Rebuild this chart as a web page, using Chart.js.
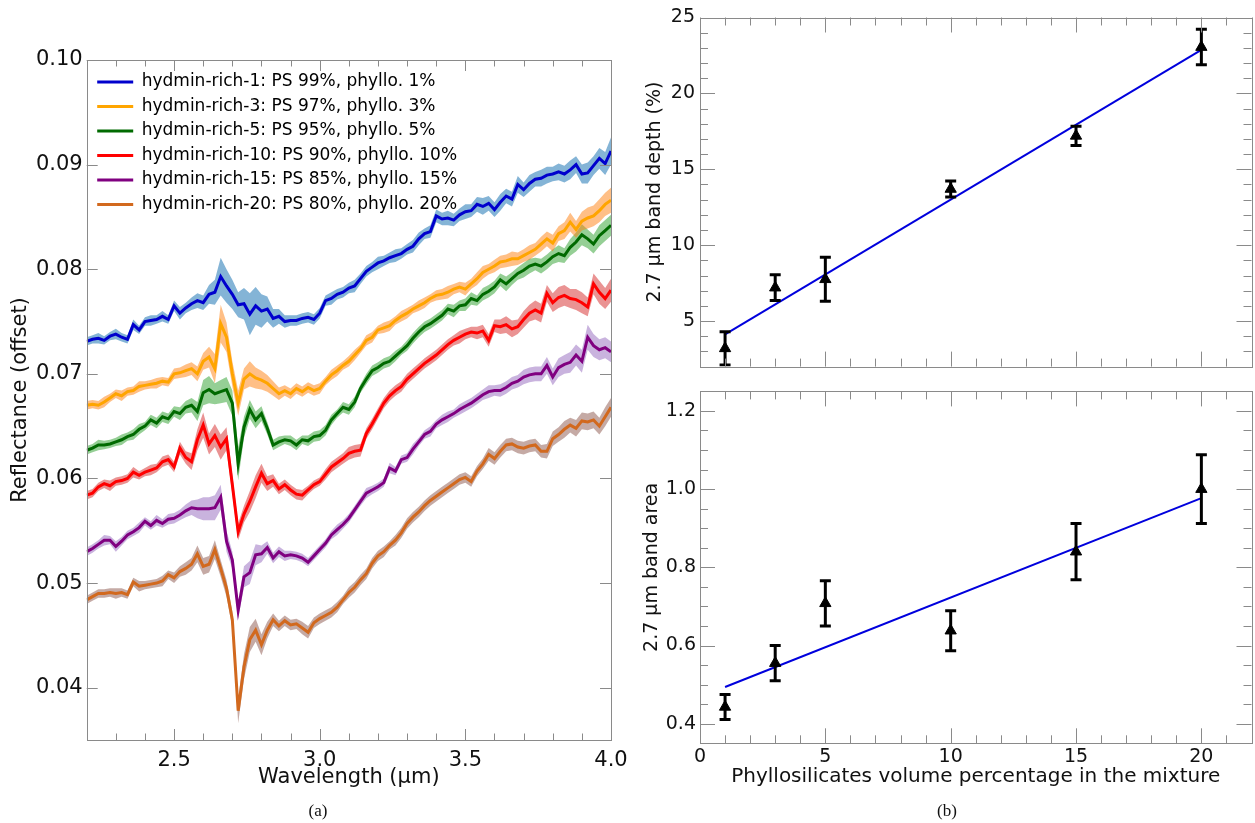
<!DOCTYPE html>
<html lang="en">
<head>
<meta charset="UTF-8" />
<title>2.7 um band of hydrated mineral mixtures</title>
<script src="https://cdn.jsdelivr.net/npm/chart.js"></script>
<style>
  body { margin: 0; width: 1255px; height: 823px; overflow: hidden; background: #fff; position: relative; }
  .box { position: absolute; }
  .box canvas { display: block; }
  .caption { position: absolute; font-family: "Liberation Serif", serif; font-size: 17px; color: #111; transform: translateX(-50%); }
</style>
</head>
<body>
<div class="box" style="left:0;top:0"><canvas id="spectra" width="640" height="823"></canvas></div>
<div class="box" style="left:620px;top:0"><canvas id="depth" width="640" height="383"></canvas></div>
<div class="box" style="left:620px;top:376px"><canvas id="area" width="640" height="447"></canvas></div>
<div class="caption" style="left:318px;top:801px">(a)</div>
<div class="caption" style="left:947px;top:801px">(b)</div>

<script>
// ---- panel (a): spectra ----
const wavelength = [
  2.20,2.22,2.24,2.26,2.28,2.30,2.32,2.34,2.36,2.38,
  2.40,2.42,2.44,2.46,2.48,2.50,2.52,2.54,2.56,2.58,
  2.60,2.62,2.64,2.66,2.68,2.70,2.72,2.74,2.76,2.78,
  2.80,2.82,2.84,2.86,2.88,2.90,2.92,2.94,2.96,2.98,
  3.00,3.02,3.04,3.06,3.08,3.10,3.12,3.14,3.16,3.18,
  3.20,3.22,3.24,3.26,3.28,3.30,3.32,3.34,3.36,3.38,
  3.40,3.42,3.44,3.46,3.48,3.50,3.52,3.54,3.56,3.58,
  3.60,3.62,3.64,3.66,3.68,3.70,3.72,3.74,3.76,3.78,
  3.80,3.82,3.84,3.86,3.88,3.90,3.92,3.94,3.96,3.98,
  4.00
];

const rich1 = [
  0.0731,0.0733,0.0734,0.0732,0.0736,0.0738,0.0735,0.0733,0.0747,0.0742,
  0.0750,0.0751,0.0752,0.0755,0.0752,0.0765,0.0758,0.0763,0.0767,0.0770,
  0.0768,0.0776,0.0778,0.0793,0.0784,0.0776,0.0766,0.0767,0.0757,0.0765,
  0.0760,0.0762,0.0753,0.0755,0.0750,0.0751,0.0751,0.0753,0.0754,0.0752,
  0.0758,0.0770,0.0772,0.0776,0.0778,0.0782,0.0784,0.0791,0.0798,0.0802,
  0.0806,0.0808,0.0811,0.0813,0.0815,0.0819,0.0822,0.0829,0.0834,0.0836,
  0.0851,0.0848,0.0849,0.0847,0.0852,0.0855,0.0856,0.0862,0.0860,0.0863,
  0.0857,0.0864,0.0870,0.0867,0.0881,0.0876,0.0882,0.0886,0.0887,0.0890,
  0.0891,0.0893,0.0891,0.0895,0.0900,0.0891,0.0892,0.0899,0.0906,0.0901,
  0.0913
];
const rich1Err = [
  0.0004,0.0004,0.0005,0.0004,0.0004,0.0005,0.0004,0.0004,0.0005,0.0004,
  0.0004,0.0005,0.0004,0.0005,0.0004,0.0005,0.0006,0.0005,0.0006,0.0007,
  0.0007,0.0009,0.0012,0.0018,0.0016,0.0014,0.0012,0.0015,0.0020,0.0018,
  0.0016,0.0012,0.0009,0.0007,0.0006,0.0005,0.0005,0.0005,0.0005,0.0005,
  0.0005,0.0005,0.0006,0.0005,0.0005,0.0005,0.0006,0.0005,0.0005,0.0005,
  0.0006,0.0005,0.0005,0.0006,0.0005,0.0005,0.0006,0.0006,0.0005,0.0006,
  0.0006,0.0006,0.0007,0.0006,0.0006,0.0007,0.0006,0.0007,0.0008,0.0007,
  0.0007,0.0008,0.0007,0.0007,0.0008,0.0007,0.0008,0.0007,0.0008,0.0008,
  0.0007,0.0008,0.0008,0.0009,0.0008,0.0009,0.0010,0.0009,0.0010,0.0011,
  0.0013
];

const rich3 = [
  0.0670,0.0671,0.0670,0.0673,0.0677,0.0681,0.0679,0.0683,0.0684,0.0688,
  0.0689,0.0690,0.0691,0.0693,0.0692,0.0700,0.0701,0.0703,0.0705,0.0700,
  0.0712,0.0716,0.0705,0.0748,0.0735,0.0700,0.0672,0.0695,0.0700,0.0696,
  0.0694,0.0691,0.0686,0.0681,0.0684,0.0681,0.0686,0.0683,0.0687,0.0684,
  0.0686,0.0693,0.0699,0.0703,0.0708,0.0712,0.0718,0.0724,0.0732,0.0735,
  0.0742,0.0744,0.0746,0.0751,0.0755,0.0758,0.0762,0.0765,0.0768,0.0772,
  0.0775,0.0776,0.0778,0.0781,0.0783,0.0781,0.0786,0.0791,0.0797,0.0800,
  0.0803,0.0807,0.0808,0.0810,0.0810,0.0813,0.0816,0.0819,0.0824,0.0829,
  0.0825,0.0834,0.0837,0.0845,0.0838,0.0846,0.0849,0.0851,0.0856,0.0862,
  0.0866
];
const rich3Err = [
  0.0004,0.0004,0.0004,0.0005,0.0004,0.0004,0.0005,0.0004,0.0004,0.0005,
  0.0004,0.0004,0.0005,0.0004,0.0004,0.0005,0.0005,0.0006,0.0006,0.0007,
  0.0008,0.0010,0.0014,0.0018,0.0014,0.0012,0.0012,0.0010,0.0012,0.0010,
  0.0009,0.0008,0.0007,0.0006,0.0005,0.0005,0.0005,0.0005,0.0005,0.0005,
  0.0005,0.0004,0.0005,0.0005,0.0004,0.0005,0.0005,0.0004,0.0005,0.0005,
  0.0004,0.0005,0.0005,0.0004,0.0005,0.0005,0.0004,0.0005,0.0005,0.0004,
  0.0005,0.0005,0.0006,0.0005,0.0005,0.0006,0.0005,0.0006,0.0006,0.0005,
  0.0006,0.0006,0.0006,0.0007,0.0006,0.0006,0.0007,0.0006,0.0007,0.0007,
  0.0008,0.0007,0.0008,0.0009,0.0008,0.0009,0.0010,0.0010,0.0011,0.0011,
  0.0012
];

const rich5 = [
  0.0627,0.0629,0.0632,0.0632,0.0633,0.0635,0.0637,0.0640,0.0642,0.0647,
  0.0650,0.0656,0.0653,0.0659,0.0657,0.0664,0.0662,0.0668,0.0670,0.0664,
  0.0682,0.0685,0.0681,0.0683,0.0685,0.0672,0.0614,0.0649,0.0666,0.0656,
  0.0662,0.0648,0.0632,0.0635,0.0637,0.0636,0.0632,0.0637,0.0636,0.0640,
  0.0641,0.0646,0.0656,0.0662,0.0668,0.0666,0.0673,0.0686,0.0695,0.0703,
  0.0706,0.0710,0.0712,0.0717,0.0722,0.0727,0.0734,0.0740,0.0745,0.0748,
  0.0752,0.0756,0.0762,0.0760,0.0765,0.0766,0.0772,0.0770,0.0776,0.0779,
  0.0783,0.0790,0.0786,0.0791,0.0796,0.0799,0.0803,0.0805,0.0803,0.0807,
  0.0812,0.0815,0.0813,0.0821,0.0826,0.0833,0.0829,0.0824,0.0832,0.0837,
  0.0842
];
const rich5Err = [
  0.0004,0.0004,0.0005,0.0004,0.0004,0.0004,0.0005,0.0004,0.0005,0.0005,
  0.0004,0.0005,0.0005,0.0005,0.0005,0.0005,0.0006,0.0006,0.0007,0.0009,
  0.0012,0.0013,0.0010,0.0011,0.0012,0.0012,0.0016,0.0010,0.0009,0.0008,
  0.0007,0.0006,0.0005,0.0005,0.0004,0.0005,0.0005,0.0004,0.0005,0.0005,
  0.0005,0.0005,0.0005,0.0004,0.0005,0.0005,0.0005,0.0004,0.0005,0.0005,
  0.0005,0.0005,0.0005,0.0005,0.0004,0.0005,0.0005,0.0005,0.0005,0.0005,
  0.0005,0.0005,0.0005,0.0006,0.0005,0.0006,0.0006,0.0005,0.0006,0.0006,
  0.0006,0.0006,0.0007,0.0006,0.0006,0.0007,0.0007,0.0006,0.0007,0.0007,
  0.0007,0.0008,0.0007,0.0008,0.0009,0.0010,0.0009,0.0009,0.0010,0.0010,
  0.0010
];

const rich10 = [
  0.0584,0.0586,0.0592,0.0595,0.0593,0.0597,0.0598,0.0600,0.0606,0.0603,
  0.0606,0.0608,0.0610,0.0616,0.0618,0.0611,0.0629,0.0620,0.0616,0.0637,
  0.0651,0.0633,0.0641,0.0630,0.0638,0.0594,0.0549,0.0566,0.0578,0.0592,
  0.0605,0.0595,0.0598,0.0590,0.0594,0.0589,0.0585,0.0584,0.0589,0.0594,
  0.0597,0.0604,0.0611,0.0615,0.0619,0.0624,0.0626,0.0627,0.0643,0.0652,
  0.0662,0.0672,0.0679,0.0684,0.0688,0.0695,0.0700,0.0705,0.0710,0.0714,
  0.0718,0.0723,0.0728,0.0732,0.0735,0.0738,0.0740,0.0739,0.0741,0.0732,
  0.0746,0.0745,0.0747,0.0743,0.0745,0.0752,0.0758,0.0761,0.0758,0.0777,
  0.0768,0.0773,0.0775,0.0772,0.0771,0.0768,0.0764,0.0786,0.0778,0.0772,
  0.0780
];
const rich10Err = [
  0.0004,0.0004,0.0004,0.0004,0.0005,0.0004,0.0004,0.0004,0.0005,0.0004,
  0.0004,0.0005,0.0004,0.0005,0.0005,0.0005,0.0006,0.0006,0.0008,0.0010,
  0.0012,0.0010,0.0011,0.0012,0.0011,0.0009,0.0008,0.0008,0.0010,0.0011,
  0.0009,0.0007,0.0006,0.0005,0.0005,0.0005,0.0005,0.0005,0.0004,0.0004,
  0.0004,0.0005,0.0005,0.0005,0.0005,0.0006,0.0006,0.0006,0.0005,0.0005,
  0.0005,0.0005,0.0005,0.0005,0.0005,0.0005,0.0005,0.0005,0.0005,0.0005,
  0.0005,0.0005,0.0005,0.0005,0.0006,0.0005,0.0005,0.0006,0.0006,0.0006,
  0.0006,0.0007,0.0008,0.0008,0.0007,0.0008,0.0008,0.0009,0.0009,0.0008,
  0.0009,0.0010,0.0010,0.0009,0.0010,0.0010,0.0009,0.0010,0.0011,0.0010,
  0.0011
];

const rich15 = [
  0.0530,0.0533,0.0537,0.0541,0.0541,0.0535,0.0540,0.0546,0.0549,0.0553,
  0.0559,0.0555,0.0560,0.0557,0.0561,0.0562,0.0565,0.0569,0.0572,0.0571,
  0.0571,0.0571,0.0572,0.0582,0.0540,0.0522,0.0474,0.0506,0.0510,0.0527,
  0.0528,0.0534,0.0524,0.0530,0.0526,0.0527,0.0526,0.0524,0.0520,0.0526,
  0.0532,0.0538,0.0546,0.0551,0.0556,0.0562,0.0570,0.0578,0.0586,0.0589,
  0.0592,0.0596,0.0610,0.0607,0.0618,0.0620,0.0628,0.0635,0.0642,0.0645,
  0.0652,0.0656,0.0659,0.0662,0.0666,0.0669,0.0672,0.0676,0.0680,0.0683,
  0.0684,0.0684,0.0687,0.0691,0.0693,0.0697,0.0699,0.0700,0.0700,0.0708,
  0.0697,0.0706,0.0709,0.0711,0.0718,0.0712,0.0735,0.0727,0.0723,0.0725,
  0.0721
];
const rich15Err = [
  0.0004,0.0004,0.0004,0.0005,0.0004,0.0005,0.0004,0.0004,0.0004,0.0005,
  0.0004,0.0004,0.0005,0.0004,0.0005,0.0005,0.0005,0.0006,0.0007,0.0009,
  0.0011,0.0011,0.0012,0.0012,0.0010,0.0008,0.0008,0.0010,0.0011,0.0010,
  0.0008,0.0006,0.0005,0.0005,0.0005,0.0004,0.0004,0.0004,0.0004,0.0004,
  0.0004,0.0004,0.0004,0.0005,0.0004,0.0004,0.0004,0.0004,0.0005,0.0004,
  0.0004,0.0004,0.0005,0.0004,0.0004,0.0004,0.0005,0.0004,0.0004,0.0005,
  0.0004,0.0005,0.0005,0.0004,0.0005,0.0005,0.0005,0.0005,0.0005,0.0006,
  0.0005,0.0006,0.0006,0.0006,0.0006,0.0007,0.0007,0.0007,0.0007,0.0008,
  0.0008,0.0009,0.0009,0.0010,0.0010,0.0011,0.0012,0.0011,0.0010,0.0010,
  0.0010
];

const rich20 = [
  0.0484,0.0487,0.0490,0.0490,0.0491,0.0490,0.0491,0.0489,0.0501,0.0497,
  0.0498,0.0499,0.0500,0.0502,0.0508,0.0505,0.0511,0.0514,0.0518,0.0528,
  0.0516,0.0518,0.0532,0.0514,0.0495,0.0465,0.0378,0.0420,0.0446,0.0455,
  0.0441,0.0455,0.0465,0.0459,0.0464,0.0460,0.0461,0.0457,0.0453,0.0462,
  0.0466,0.0469,0.0472,0.0477,0.0484,0.0491,0.0496,0.0503,0.0509,0.0519,
  0.0526,0.0530,0.0536,0.0541,0.0548,0.0557,0.0563,0.0568,0.0574,0.0579,
  0.0583,0.0587,0.0591,0.0595,0.0599,0.0601,0.0597,0.0607,0.0614,0.0623,
  0.0619,0.0626,0.0632,0.0633,0.0630,0.0629,0.0631,0.0632,0.0626,0.0626,
  0.0638,0.0642,0.0647,0.0651,0.0648,0.0655,0.0654,0.0656,0.0650,0.0659,
  0.0668
];
const rich20Err = [
  0.0004,0.0004,0.0004,0.0004,0.0004,0.0005,0.0004,0.0004,0.0004,0.0005,
  0.0004,0.0004,0.0004,0.0005,0.0004,0.0005,0.0005,0.0006,0.0006,0.0008,
  0.0008,0.0008,0.0009,0.0008,0.0008,0.0008,0.0012,0.0012,0.0012,0.0011,
  0.0010,0.0008,0.0006,0.0005,0.0005,0.0005,0.0005,0.0006,0.0006,0.0005,
  0.0005,0.0005,0.0005,0.0005,0.0004,0.0005,0.0005,0.0005,0.0005,0.0005,
  0.0005,0.0005,0.0004,0.0005,0.0005,0.0005,0.0005,0.0005,0.0005,0.0005,
  0.0005,0.0005,0.0005,0.0005,0.0005,0.0005,0.0005,0.0005,0.0005,0.0006,
  0.0006,0.0006,0.0006,0.0006,0.0006,0.0006,0.0006,0.0006,0.0006,0.0007,
  0.0007,0.0007,0.0008,0.0007,0.0008,0.0008,0.0008,0.0008,0.0008,0.0009,
  0.0009
];

const sampleLabels = [
  'hydmin-rich-1: PS 99%, phyllo. 1%',
  'hydmin-rich-3: PS 97%, phyllo. 3%',
  'hydmin-rich-5: PS 95%, phyllo. 5%',
  'hydmin-rich-10: PS 90%, phyllo. 10%',
  'hydmin-rich-15: PS 85%, phyllo. 15%',
  'hydmin-rich-20: PS 80%, phyllo. 20%'
];
const sampleValues = [rich1, rich3, rich5, rich10, rich15, rich20];
const sampleErrors = [rich1Err, rich3Err, rich5Err, rich10Err, rich15Err, rich20Err];
const lineColors = ['#0000cd', '#ffa500', '#006a00', '#ff0000', '#800080', '#d2691e'];
const bandColors = ['rgba(31,119,180,0.55)', 'rgba(255,127,14,0.5)', 'rgba(44,160,44,0.5)',
                    'rgba(214,39,40,0.5)', 'rgba(148,103,189,0.5)', 'rgba(140,86,75,0.5)'];

const wavelengthTicks = [2.5, 3.0, 3.5, 4.0];
const reflectanceTicks = [0.04, 0.05, 0.06, 0.07, 0.08, 0.09, 0.10];

// ---- panel (b): band parameters ----
const phylloPct = [1, 3, 5, 10, 15, 20];
const bandDepth = [3.2, 7.2, 7.75, 13.7, 17.2, 23.05];
const bandDepthErr = [1.1, 0.85, 1.45, 0.52, 0.63, 1.17];
const bandArea = [0.443, 0.555, 0.708, 0.638, 0.84, 1.0];
const bandAreaErr = [0.032, 0.045, 0.058, 0.051, 0.072, 0.088];
const fitPct = [1, 20];
const bandDepthFit = [4.13, 22.86];
const bandAreaFit = [0.494, 0.977];

const phylloTicks = [0, 5, 10, 15, 20];
const depthTicks = [5, 10, 15, 20, 25];
const areaTicks = [0.4, 0.6, 0.8, 1.0, 1.2];

Chart.defaults.font.family = "'DejaVu Sans', sans-serif";
Chart.defaults.color = '#111';

// box round the plot with inward ticks on all four sides
const framePlugin = {
  id: 'frame',
  afterDatasetsDraw(chart, args, o) {
    const { ctx, chartArea: a } = chart;
    const xs = chart.scales.x, ys = chart.scales.y;
    const snap = v => Math.round(v) + 0.5;
    const minors = (scale, step, majors) => {
      const out = [];
      if (!step) return out;
      for (let i = Math.ceil(scale.min / step - 1e-9); i * step <= scale.max + 1e-9; i++) {
        const v = i * step;
        if (!majors.some(m => Math.abs(m - v) < 1e-9)) out.push(v);
      }
      return out;
    };
    ctx.save();
    ctx.strokeStyle = o.color;
    ctx.lineWidth = 1;
    ctx.beginPath();
    const xMarks = (vals, len) => vals.forEach(v => {
      const px = snap(xs.getPixelForValue(v));
      ctx.moveTo(px, a.bottom); ctx.lineTo(px, a.bottom - len);
      ctx.moveTo(px, a.top); ctx.lineTo(px, a.top + len);
    });
    const yMarks = (vals, len) => vals.forEach(v => {
      const py = snap(ys.getPixelForValue(v));
      ctx.moveTo(a.left, py); ctx.lineTo(a.left + len, py);
      ctx.moveTo(a.right, py); ctx.lineTo(a.right - len, py);
    });
    xMarks(o.xMajor, o.major);
    xMarks(minors(xs, o.xMinor, o.xMajor), o.minor);
    yMarks(o.yMajor, o.major);
    yMarks(minors(ys, o.yMinor, o.yMajor), o.minor);
    ctx.stroke();
    ctx.strokeRect(snap(a.left), snap(a.top), Math.round(a.right - a.left), Math.round(a.bottom - a.top));
    ctx.restore();
  }
};

// the 'chartArea' legend is laid out from the canvas top; move it into the plot box
const legendInside = {
  id: 'legendInside',
  afterLayout(chart, args, o) {
    const lg = chart.legend;
    if (!lg) return;
    const a = chart.chartArea;
    lg.top = a.top + o.dy;
    lg.bottom = a.bottom;
    lg.left = a.left + o.dx;
  }
};

function fixedTicks(values) {
  return scale => { scale.ticks = values.map(v => ({ value: v })); };
}

// ---------- panel (a) ----------
const spectraSets = [];
sampleValues.forEach((vals, s) => {
  const err = sampleErrors[s];
  spectraSets.push({
    role: 'band', data: wavelength.map((w, i) => ({ x: w, y: vals[i] + err[i] })),
    borderWidth: 0, pointRadius: 0, fill: false, order: 1
  });
  spectraSets.push({
    role: 'band', data: wavelength.map((w, i) => ({ x: w, y: vals[i] - err[i] })),
    borderWidth: 0, pointRadius: 0, fill: '-1', backgroundColor: bandColors[s], order: 1
  });
  spectraSets.push({
    role: 'line', label: sampleLabels[s], data: wavelength.map((w, i) => ({ x: w, y: vals[i] })),
    borderColor: lineColors[s], backgroundColor: lineColors[s], borderWidth: 3,
    pointRadius: 0, fill: false, order: 0
  });
});

new Chart(document.getElementById('spectra'), {
  type: 'line',
  data: { datasets: spectraSets },
  options: {
    responsive: false,
    animation: false,
    events: [],
    layout: { padding: { top: 60, right: 29, left: 0, bottom: 0 } },
    elements: { line: { tension: 0 } },
    scales: {
      x: {
        type: 'linear', min: 2.2, max: 4.0,
        afterBuildTicks: fixedTicks(wavelengthTicks),
        afterFit: s => { s.height = 83; },
        grid: { display: false, drawTicks: false },
        border: { display: false },
        ticks: { autoSkip: false, maxRotation: 0, padding: 8, font: { size: 21 }, callback: v => v.toFixed(1) },
        title: { display: true, text: 'Wavelength (μm)', font: { size: 21 }, padding: { top: 0, bottom: 33 } }
      },
      y: {
        type: 'linear', min: 0.035, max: 0.1,
        afterBuildTicks: fixedTicks(reflectanceTicks),
        afterFit: s => { s.width = 86.7; },
        grid: { display: false, drawTicks: false },
        border: { display: false },
        ticks: { autoSkip: false, padding: 4, font: { size: 21 }, callback: v => v.toFixed(2) },
        title: { display: true, text: 'Reflectance (offset)', font: { size: 21 }, padding: { top: 8, bottom: 0 } }
      }
    },
    plugins: {
      tooltip: { enabled: false },
      legend: {
        position: 'chartArea',
        align: 'start',
        labels: {
          boxWidth: 36, boxHeight: 3, padding: 7.5, font: { size: 17 },
          generateLabels: chart => chart.data.datasets
            .map((d, i) => ({ text: d.label, fillStyle: d.borderColor, strokeStyle: d.borderColor,
                              lineWidth: 0, hidden: false, datasetIndex: i }))
            .filter(item => chart.data.datasets[item.datasetIndex].role === 'line')
        }
      },
      legendInside: { dx: 3, dy: 6 },
      frame: { color: '#8a8a8a', major: 11, minor: 6.5,
               xMajor: wavelengthTicks, xMinor: 0.1, yMajor: reflectanceTicks, yMinor: 0 }
    }
  },
  plugins: [framePlugin, legendInside]
});

// ---------- panel (b) ----------
function errorBarPoints(xs, ys, errs) {
  const pts = [];
  xs.forEach((x, i) => {
    pts.push({ x, y: ys[i] - errs[i] }, { x, y: ys[i] + errs[i] }, { x, y: null });
  });
  return pts;
}

function phylloDatasets(vals, errs, fit) {
  return [
    { data: phylloPct.map((x, i) => ({ x, y: vals[i] })), showLine: false,
      pointStyle: 'triangle', pointRadius: 6.5, pointBackgroundColor: '#000',
      pointBorderColor: '#000', pointBorderWidth: 1, order: 0 },
    { data: errorBarPoints(phylloPct, vals, errs), borderColor: '#000', borderWidth: 3,
      pointStyle: 'line', pointRadius: 5.5, pointBorderColor: '#000', pointBorderWidth: 3,
      spanGaps: false, fill: false, order: 1 },
    { data: fitPct.map((x, i) => ({ x, y: fit[i] })), borderColor: '#0000dd', borderWidth: 2,
      pointRadius: 0, fill: false, order: 2 }
  ];
}

const yTitleFont = { size: 19 };

new Chart(document.getElementById('depth'), {
  type: 'line',
  data: { datasets: phylloDatasets(bandDepth, bandDepthErr, bandDepthFit) },
  options: {
    responsive: false,
    animation: false,
    events: [],
    layout: { padding: { top: 17.5, right: 1, left: 0, bottom: 2 } },
    elements: { line: { tension: 0 } },
    scales: {
      x: {
        type: 'linear', min: 0, max: 22,
        afterBuildTicks: fixedTicks(phylloTicks),
        afterFit: s => { s.height = 0; },
        grid: { display: false, drawTicks: false },
        border: { display: false },
        ticks: { display: false }
      },
      y: {
        type: 'linear', min: 2, max: 25,
        afterBuildTicks: fixedTicks(depthTicks),
        afterFit: s => { s.width = 80; },
        grid: { display: false, drawTicks: false },
        border: { display: false },
        ticks: { autoSkip: false, padding: 5, font: { size: 19 } },
        title: { display: true, text: '2.7 μm band depth (%)', font: yTitleFont, padding: { top: 24, bottom: 0 } }
      }
    },
    plugins: {
      tooltip: { enabled: false },
      legend: { display: false },
      frame: { color: '#8a8a8a', major: 15, minor: 8,
               xMajor: phylloTicks, xMinor: 1, yMajor: depthTicks, yMinor: 1 }
    }
  },
  plugins: [framePlugin]
});

new Chart(document.getElementById('area'), {
  type: 'line',
  data: { datasets: phylloDatasets(bandArea, bandAreaErr, bandAreaFit) },
  options: {
    responsive: false,
    animation: false,
    events: [],
    layout: { padding: { top: 4.7, right: 1, left: 0, bottom: 0 } },
    elements: { line: { tension: 0 } },
    scales: {
      x: {
        type: 'linear', min: 0, max: 22,
        afterBuildTicks: fixedTicks(phylloTicks),
        afterFit: s => { s.height = 79.7; },
        grid: { display: false, drawTicks: false },
        border: { display: false },
        ticks: { autoSkip: false, maxRotation: 0, padding: 2, font: { size: 19 } },
        title: { display: true, text: 'Phyllosilicates volume percentage in the mixture',
                 font: { size: 20 }, padding: { top: 0, bottom: 34 } }
      },
      y: {
        type: 'linear', min: 0.35, max: 1.25,
        afterBuildTicks: fixedTicks(areaTicks),
        afterFit: s => { s.width = 80; },
        grid: { display: false, drawTicks: false },
        border: { display: false },
        ticks: { autoSkip: false, padding: 4, font: { size: 19 }, callback: v => v.toFixed(1) },
        title: { display: true, text: '2.7 μm band area', font: yTitleFont, padding: { top: 21, bottom: 0 } }
      }
    },
    plugins: {
      tooltip: { enabled: false },
      legend: { display: false },
      frame: { color: '#8a8a8a', major: 15, minor: 8,
               xMajor: phylloTicks, xMinor: 1, yMajor: areaTicks, yMinor: 0.05 }
    }
  },
  plugins: [framePlugin]
});
</script>
</body>
</html>
